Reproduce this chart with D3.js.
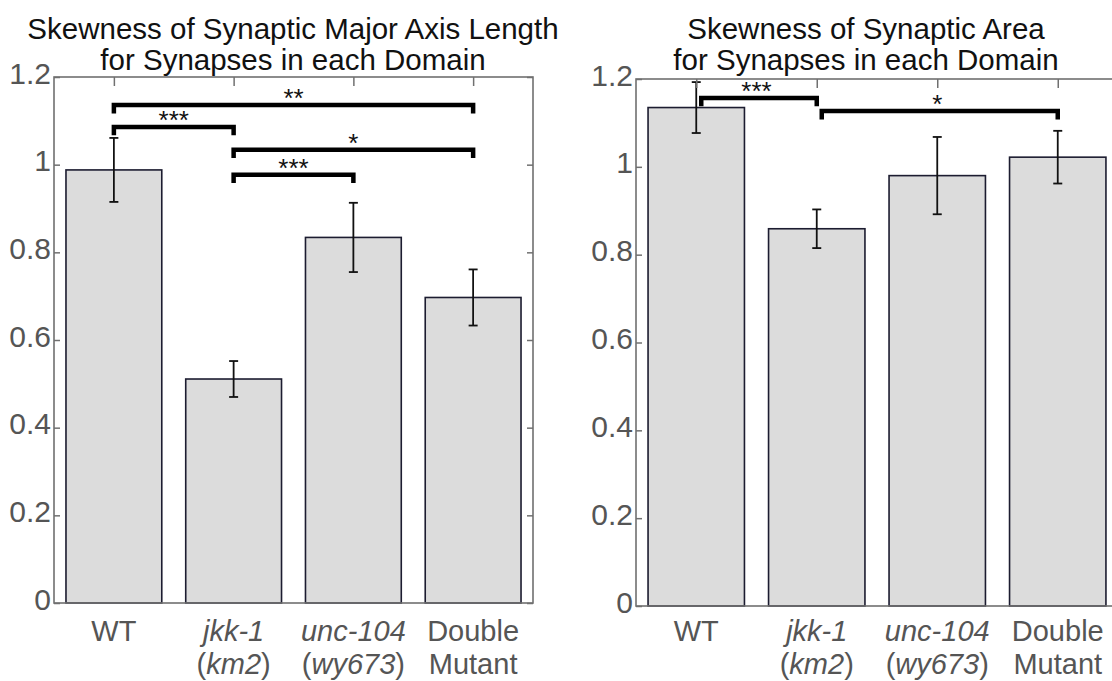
<!DOCTYPE html>
<html>
<head>
<meta charset="utf-8">
<script src="https://cdn.jsdelivr.net/npm/d3@7"></script>
<style>
  body { margin: 0; background: #fff; }
  svg { display: block; font-family: "Liberation Sans", Arial, Helvetica, sans-serif; }
</style>
</head>
<body>
<div id="chart"></div>
<script>
// categories on the x axis
var categories = ["WT", "jkk-1", "unc-104", "Double"];
// x label lines: [text, italic]
var labelLine1 = [[["WT", false]], [["jkk-1", true]], [["unc-104", true]], [["Double", false]]];
var labelLine2 = [[], [["(", false], ["km2", true], [")", false]], [["(", false], ["wy673", true], [")", false]], [["Mutant", false]]];

var yTicks = [0, 0.2, 0.4, 0.6, 0.8, 1, 1.2];
var yTickLabels = ["0", "0.2", "0.4", "0.6", "0.8", "1", "1.2"];

// left panel: major axis length skewness
var axisMeans = [0.988, 0.511, 0.834, 0.697];
var axisErrors = [0.073, 0.041, 0.079, 0.064];
// brackets: [from, to, level, stars]
var axisBrackets = [
  [0, 3, 1.136, "**"],
  [0, 1, 1.086, "***"],
  [1, 3, 1.034, "*"],
  [1, 2, 0.977, "***"]
];

// right panel: area skewness
var areaMeans = [1.135, 0.859, 0.980, 1.022];
var areaErrors = [0.058, 0.044, 0.088, 0.060];
var areaBrackets = [
  [0, 1, 1.157, "***"],
  [1, 3, 1.127, "*"]
];

var W = 1112, H = 681;
var svg = d3.select("#chart").append("svg")
  .attr("width", W)
  .attr("height", H);

function drawPanel(opts) {
  var g = svg.append("g");

  var x = d3.scaleBand()
    .domain(categories)
    .range([opts.left, opts.right])
    .paddingInner(0.2)
    .paddingOuter(0.1);

  var y = d3.scaleLinear()
    .domain([0, 1.2])
    .range([opts.bottom, opts.top]);

  var cx = function(i) { return x(categories[i]) + x.bandwidth() / 2; };

  // bars
  g.selectAll("rect.bar")
    .data(opts.means)
    .enter().append("rect")
    .attr("class", "bar")
    .attr("x", (d, i) => x(categories[i]))
    .attr("width", x.bandwidth())
    .attr("y", d => y(d))
    .attr("height", d => y(0) - y(d))
    .attr("fill", "#dcdcdc")
    .attr("stroke", "#1c1c30")
    .attr("stroke-width", 1.6);

  // error bars
  var eb = g.selectAll("g.err")
    .data(opts.means)
    .enter().append("g")
    .attr("class", "err")
    .attr("stroke", "#111")
    .attr("stroke-width", 1.8);
  eb.append("line")
    .attr("x1", (d, i) => cx(i)).attr("x2", (d, i) => cx(i))
    .attr("y1", (d, i) => y(d - opts.errors[i]))
    .attr("y2", (d, i) => y(d + opts.errors[i]));
  eb.append("line")
    .attr("x1", (d, i) => cx(i) - 4.5).attr("x2", (d, i) => cx(i) + 4.5)
    .attr("y1", (d, i) => y(d + opts.errors[i]))
    .attr("y2", (d, i) => y(d + opts.errors[i]));
  eb.append("line")
    .attr("x1", (d, i) => cx(i) - 4.5).attr("x2", (d, i) => cx(i) + 4.5)
    .attr("y1", (d, i) => y(d - opts.errors[i]))
    .attr("y2", (d, i) => y(d - opts.errors[i]));

  // axes box
  var axisColor = "#707070";
  var left = g.append("g")
    .attr("transform", "translate(" + opts.left + ",0)")
    .call(d3.axisLeft(y).tickValues(yTicks)
      .tickFormat((d, i) => yTickLabels[i])
      .tickSizeInner(-6).tickSizeOuter(0).tickPadding(3));
  left.select(".domain").remove();
  left.selectAll(".tick line").attr("stroke", axisColor).attr("stroke-width", 1.5);
  left.selectAll(".tick text")
    .attr("fill", "#555")
    .attr("font-size", 30)
    .attr("font-family", "'Liberation Sans', Arial, sans-serif")
    .attr("dy", "0.2em");

  var rightAx = g.append("g")
    .attr("transform", "translate(" + opts.right + ",0)")
    .call(d3.axisRight(y).tickValues(yTicks).tickFormat("")
      .tickSizeInner(-6).tickSizeOuter(0));
  rightAx.select(".domain").remove();
  rightAx.selectAll(".tick line").attr("stroke", axisColor).attr("stroke-width", 1.5);

  var xc = d3.scaleLinear().domain([0, 3]).range([cx(0), cx(3)]);
  var topAx = g.append("g")
    .attr("transform", "translate(0," + opts.top + ")")
    .call(d3.axisTop(xc).tickValues([0, 1, 2, 3]).tickFormat("")
      .tickSizeInner(-9).tickSizeOuter(0));
  topAx.select(".domain").remove();
  topAx.selectAll(".tick line").attr("stroke", axisColor).attr("stroke-width", 1.5);

  g.append("rect")
    .attr("x", opts.left)
    .attr("y", opts.top)
    .attr("width", opts.right - opts.left)
    .attr("height", opts.bottom - opts.top)
    .attr("fill", "none")
    .attr("stroke", axisColor)
    .attr("stroke-width", 1.6);

  // significance brackets
  var drop = 0.019;
  var br = g.selectAll("g.bracket")
    .data(opts.brackets)
    .enter().append("g")
    .attr("class", "bracket");
  br.append("path")
    .attr("d", d => {
      var x1 = xc(d[0]) + (opts.bracketShift ? opts.bracketShift[0] : 0);
      var x2 = xc(d[1]);
      return "M" + x1 + "," + y(d[2] - drop) +
        "V" + y(d[2]) + "H" + x2 + "V" + y(d[2] - drop);
    })
    .attr("fill", "none")
    .attr("stroke", "#000")
    .attr("stroke-width", 4.5)
    .attr("stroke-linejoin", "miter")
    .attr("stroke-linecap", "butt");
  br.append("text")
    .attr("x", d => (xc(d[0]) + xc(d[1])) / 2)
    .attr("y", d => y(d[2]) + 2)
    .attr("text-anchor", "middle")
    .attr("font-size", 26)
    .attr("fill", "#111")
    .text(d => d[3]);

  // x labels
  var lab = g.selectAll("g.xlab")
    .data(categories)
    .enter().append("g")
    .attr("class", "xlab");
  [labelLine1, labelLine2].forEach(function(lines, li) {
    lab.append("text")
      .attr("x", (d, i) => cx(i))
      .attr("y", li === 0 ? 641 : 674)
      .attr("text-anchor", "middle")
      .attr("font-size", 29)
      .attr("fill", "#555")
      .each(function(d, i) {
        var t = d3.select(this);
        lines[i].forEach(function(seg) {
          t.append("tspan")
            .attr("font-style", seg[1] ? "italic" : "normal")
            .text(seg[0]);
        });
      });
  });

  // title
  var title = g.append("text")
    .attr("x", opts.titleX)
    .attr("text-anchor", "middle")
    .attr("font-size", 29.5)
    .attr("fill", "#111");
  title.append("tspan").attr("x", opts.titleX).attr("y", 39).text(opts.title[0]);
  title.append("tspan").attr("x", opts.titleX).attr("y", 70).text(opts.title[1]);
}

drawPanel({
  left: 54, right: 533, top: 77, bottom: 603,
  means: axisMeans, errors: axisErrors, brackets: axisBrackets,
  title: ["Skewness of Synaptic Major Axis Length", "for Synapses in each Domain"],
  titleX: 293
});

drawPanel({
  left: 636, right: 1118, top: 79, bottom: 606,
  means: areaMeans, errors: areaErrors, brackets: areaBrackets,
  title: ["Skewness of Synaptic Area", "for Synapses in each Domain"],
  titleX: 866,
  bracketShift: [5]
});
</script>
</body>
</html>
